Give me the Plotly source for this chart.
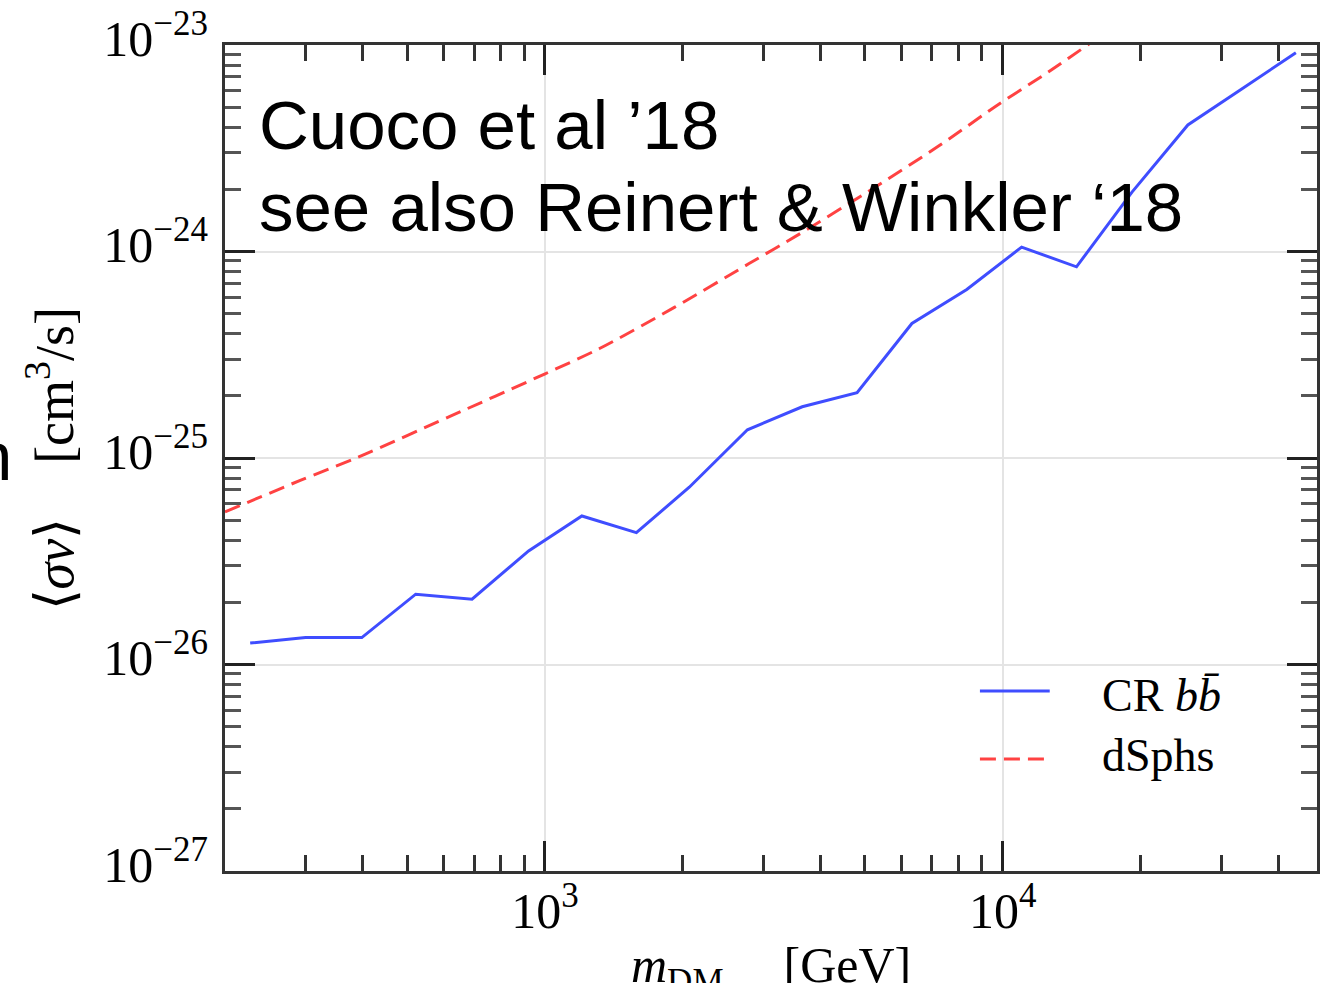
import numpy as np
import plotly.graph_objects as go

# Upper limits on <sigma v> vs dark-matter mass
m_cr = [227, 300, 398, 522, 693, 921, 1204, 1584, 2067, 2769, 3648, 4807,
        6334, 8347, 11000, 14496, 19164, 25381, 33283, 43697]
sv_cr = [1.27e-26, 1.35e-26, 1.35e-26, 2.19e-26, 2.07e-26, 3.55e-26, 5.24e-26,
         4.35e-26, 7.22e-26, 1.37e-25, 1.77e-25, 2.07e-25, 4.48e-25, 6.55e-25,
         1.05e-24, 8.43e-25, 1.94e-24, 4.10e-24, 6.12e-24, 9.18e-24]

m_dsph = [200, 292, 391, 620, 998, 1316, 1917, 2792, 3587, 5097, 7243, 9786,
          12578, 15524]
sv_dsph = [5.48e-26, 7.79e-26, 1.01e-25, 1.59e-25, 2.55e-25, 3.39e-25, 5.36e-25,
           8.74e-25, 1.21e-24, 1.96e-24, 3.24e-24, 5.15e-24, 7.40e-24, 1.02e-23]

x_major = [1e3, 1e4]
x_major_text = ["10<sup>3</sup>", "10<sup>4</sup>"]
y_major = [1e-27, 1e-26, 1e-25, 1e-24, 1e-23]
y_major_text = ["10<sup>\u221227</sup>", "10<sup>\u221226</sup>", "10<sup>\u221225</sup>",
                "10<sup>\u221224</sup>", "10<sup>\u221223</sup>"]

BLUE = "#3f4dff"
RED = "#ff4242"
SERIF = "Liberation Serif"
SANS = "Liberation Sans"

W, H = 1320, 983
L, R, T, B = 225, 0, 45, 112
PW, PH = W - L - R, H - T - B
X_DECADE = 459  # pixels per decade along x


def px_x(p):
    return (p - L) / PW


def px_y(p):
    return (H - B - p) / PH


x_lo = np.log10(200)
x_hi = x_lo + PW / X_DECADE

x_minor = [k * 10 ** e for e in (2, 3, 4) for k in range(2, 10)]
y_minor = [k * 10.0 ** e for e in (-27, -26, -25, -24) for k in range(2, 10)]

fig = go.Figure()
fig.add_trace(go.Scatter(x=m_cr, y=sv_cr, mode="lines", name="CR bb",
                         line=dict(color=BLUE, width=3)))
fig.add_trace(go.Scatter(x=m_dsph, y=sv_dsph, mode="lines", name="dSphs",
                         line=dict(color=RED, width=3, dash="16px,8px",
                                   shape="spline", smoothing=0.8)))

axis_common = dict(
    type="log", showline=True, linecolor="#333333", linewidth=3, mirror="ticks",
    ticks="inside", ticklen=30, tickwidth=3, tickcolor="#222222",
    tickmode="array", showgrid=True, gridcolor="#e4e4e4", gridwidth=2,
    zeroline=False, tickfont=dict(family=SERIF, size=50, color="black"),
)

fig.update_layout(
    width=W, height=H, margin=dict(l=L, r=R, t=T, b=B),
    paper_bgcolor="white", plot_bgcolor="white", showlegend=False,
    xaxis=dict(axis_common, range=[x_lo, x_hi], tickvals=x_major, ticktext=x_major_text,
               ticklabelstandoff=-6,
               minor=dict(tickmode="array", tickvals=x_minor, ticks="inside",
                          ticklen=16, tickwidth=2.5, tickcolor="#333333", showgrid=False)),
    yaxis=dict(axis_common, range=[-27, -23], tickvals=y_major, ticktext=y_major_text,
               ticklabelstandoff=4, ticklabelshift=-7,
               minor=dict(tickmode="array", tickvals=y_minor, ticks="inside",
                          ticklen=16, tickwidth=3, tickcolor="#555555", showgrid=False)),
)

ann = []
# axis titles
ann.append(dict(text="<i>m</i><sub>DM</sub>\u2003\u2009[GeV]", x=px_x(772), y=px_y(969),
                xref="paper", yref="paper", xanchor="center", yanchor="middle",
                showarrow=False, font=dict(family=SERIF, size=50, color="black")))
ann.append(dict(text="\u27e8<i>\u03c3v</i>\u27e9\u2003[cm<sup>3</sup>/s]",
                x=px_x(50), y=px_y(459), textangle=-90,
                xref="paper", yref="paper", xanchor="center", yanchor="middle",
                showarrow=False, font=dict(family=SERIF, size=54, color="black")))
# citation text
ann.append(dict(text="Cuoco et al \u201918", x=px_x(258), y=px_y(125),
                xref="paper", yref="paper", xanchor="left", yanchor="middle",
                showarrow=False, borderpad=0, font=dict(family=SANS, size=69, color="black")))
ann.append(dict(text="see also Reinert &amp; Winkler \u201818", x=px_x(258), y=px_y(207),
                xref="paper", yref="paper", xanchor="left", yanchor="middle",
                showarrow=False, borderpad=0, font=dict(family=SANS, size=69, color="black")))
ann.append(dict(text="n", x=px_x(12), y=px_y(456),
                xref="paper", yref="paper", xanchor="right", yanchor="middle",
                showarrow=False, borderpad=0, font=dict(family=SANS, size=69, color="black")))
# legend
ann.append(dict(text="CR <i>b</i><i>b\u0304</i>", x=px_x(1103), y=px_y(695),
                xref="paper", yref="paper", xanchor="left", yanchor="middle",
                showarrow=False, borderpad=0, font=dict(family=SERIF, size=46, color="black")))
ann.append(dict(text="dSphs", x=px_x(1103), y=px_y(755),
                xref="paper", yref="paper", xanchor="left", yanchor="middle",
                showarrow=False, borderpad=0, font=dict(family=SERIF, size=46, color="black")))
fig.update_layout(annotations=ann)

fig.add_shape(type="line", xref="paper", yref="paper",
              x0=px_x(982), x1=px_x(1052), y0=px_y(691), y1=px_y(691),
              line=dict(color=BLUE, width=3))
fig.add_shape(type="line", xref="paper", yref="paper",
              x0=px_x(982), x1=px_x(1047), y0=px_y(759), y1=px_y(759),
              line=dict(color=RED, width=3, dash="16px,8px"))

fig.write_html("out.html")
